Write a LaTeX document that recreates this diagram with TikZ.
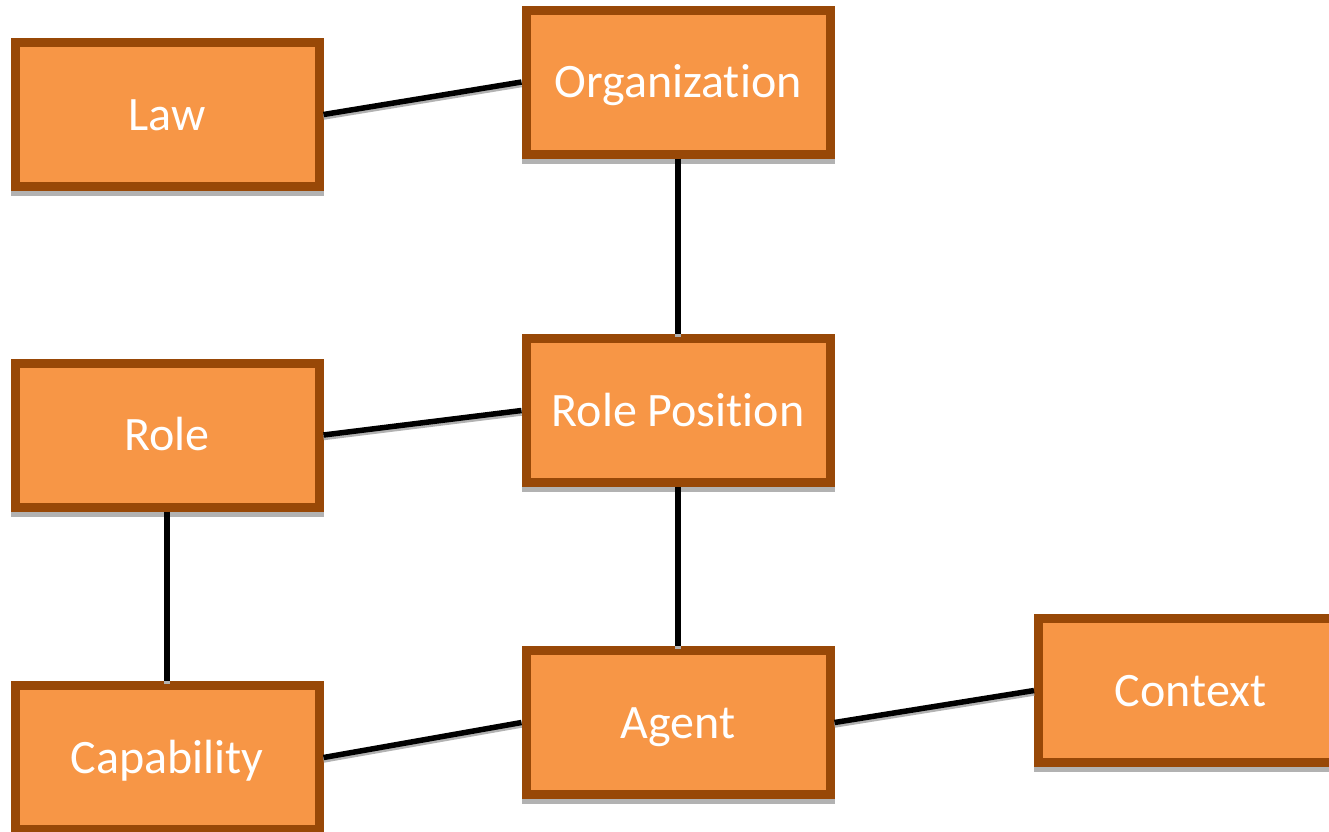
\documentclass[tikz,border=0pt]{standalone}
\usepackage{fontspec}
\setmainfont{Carlito}[Ligatures=NoCommon]
\usetikzlibrary{shadows}
\definecolor{boxfill}{HTML}{F79646}
\definecolor{boxline}{HTML}{984807}

\tikzset{link/.style={draw=black,line width=5.5pt,
    preaction={draw=gray!60,line width=5.5pt,transform canvas={yshift=-2.5pt}}}}

\begin{document}
\begin{tikzpicture}[x=1pt,y=-1pt]

      \useasboundingbox (0,0) rectangle (1329,831);

      \begin{scope}[every node/.style={draw=boxline,fill=boxfill,line width=9pt,
          minimum width=304pt,minimum height=144pt,inner sep=0pt,
          text=white,font=\fontsize{48}{48}\selectfont,text height=31pt,text depth=0pt,
          drop shadow={shadow xshift=0pt,shadow yshift=-5pt,fill=gray!60,draw=gray!60,opacity=1}}]
        \node (law)     at (167,114.5)   {Law};
        \node (org)     at (678,82)      {Organization};
        \node (role)    at (167,435)     {Role};
        \node (rolepos) at (678,410.5)   {Role Position};
        \node (cap)     at (167,757.5)   {Capability};
        \node (agent)   at (678,722.5)   {Agent};
        \node (context) at (1190.5,690.5) {Context};
      \end{scope}

      \draw[link] (law.east)   -- (org.west);
      \draw[link] (org)        -- (rolepos);
      \draw[link] (role.east)  -- (rolepos.west);
      \draw[link] (role)       -- (cap);
      \draw[link] (rolepos)    -- (agent);
      \draw[link] (cap.east)   -- (agent.west);
      \draw[link] (agent.east) -- (context.west);

    \end{tikzpicture}
\end{document}
